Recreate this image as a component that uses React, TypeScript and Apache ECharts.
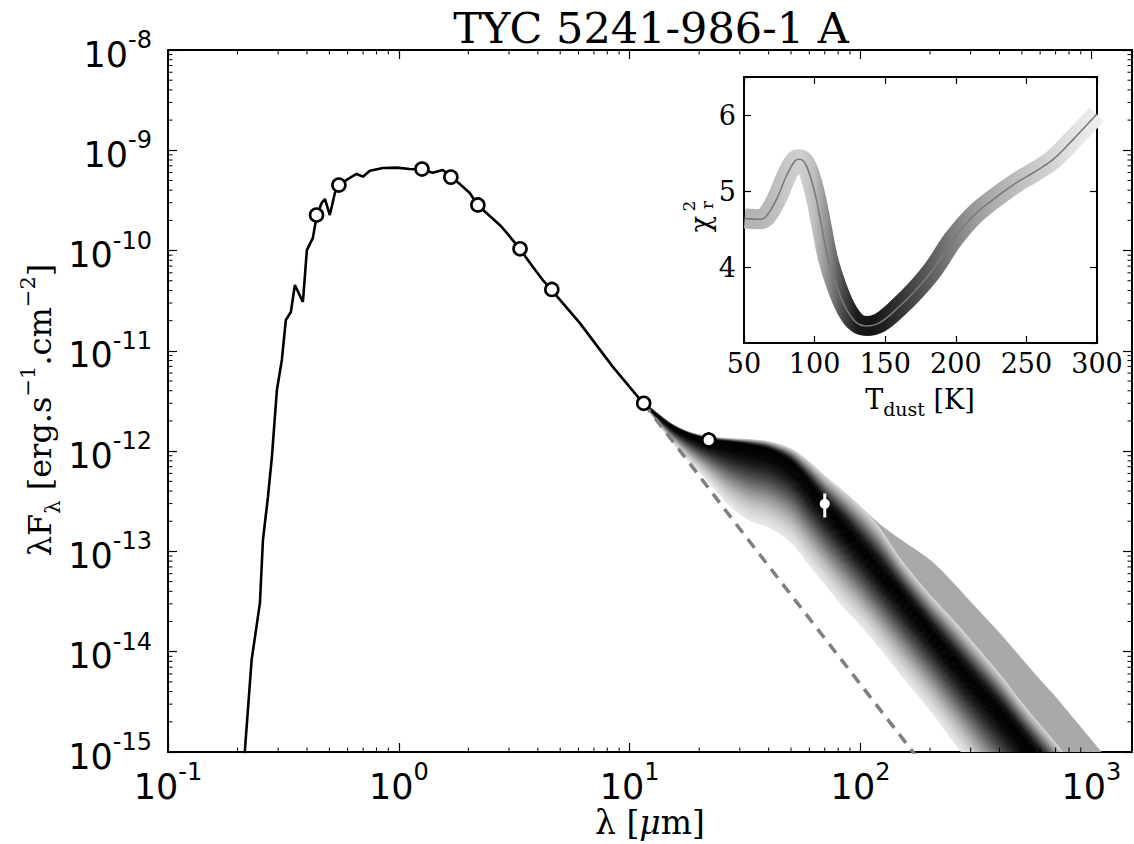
import React, { useEffect, useRef } from 'react';
import * as echarts from 'echarts';

// ---------- main SED data ----------
const photLambda = [0.213, 0.2154, 0.2303, 0.2502, 0.2578, 0.271, 0.2819, 0.2963, 0.3113, 0.324, 0.3406, 0.3545, 0.384, 0.3996, 0.4243, 0.4402, 0.4627, 0.4783, 0.5025, 0.5283, 0.5444, 0.5936, 0.656, 0.6985, 0.7491, 0.8527, 0.9772, 1.116, 1.254, 1.403, 1.55, 1.691, 1.837, 2.029, 2.198, 2.477, 2.736, 2.935, 3.341, 3.803, 4.201, 4.581, 6.074, 8.44, 11.5];
const photFlux = [6.0e-16, 1.05e-15, 8.28e-15, 3.07e-14, 1.3e-13, 3.49e-13, 8.75e-13, 4.07e-12, 8.11e-12, 2.03e-11, 2.44e-11, 4.54e-11, 3.07e-11, 1.01e-10, 1.34e-10, 2.18e-10, 2.98e-10, 3.27e-10, 2.26e-10, 3.75e-10, 4.31e-10, 5.06e-10, 5.81e-10, 5.46e-10, 6.26e-10, 6.66e-10, 6.71e-10, 6.51e-10, 6.43e-10, 5.98e-10, 6.36e-10, 5.42e-10, 4.61e-10, 3.75e-10, 2.85e-10, 2.21e-10, 1.8e-10, 1.5e-10, 1.04e-10, 6.91e-11, 5.09e-11, 4.05e-11, 1.9e-11, 6.96e-12, 2.96e-12];

const obsLambda = [0.44, 0.55, 1.26, 1.68, 2.2, 3.35, 4.6, 11.5, 22];
const obsFlux = [2.26e-10, 4.5e-10, 6.5e-10, 5.4e-10, 2.85e-10, 1.04e-10, 4.1e-11, 3.0e-12, 1.29e-12];
const obsErr = [0, 0, 0, 0, 0, 0, 0, 0, 0.25e-12];

const pacsLambda = [70];
const pacsFlux = [2.98e-13];
const pacsErr = [0.8e-13];

// photosphere alone (dashed)
const rjLambda = [11.5, 28, 166, 185];
const rjFlux = [3.0e-12, 2.06e-13, 1.05e-15, 7.6e-16];

// ---------- dust model family, read as cross-sections ----------
const bandLambda = [11.5, 15, 18, 22, 27, 33, 40, 50, 60, 70, 85, 100, 120, 150, 200, 250, 300, 400, 500, 600, 700, 800, 1000, 1200, 1500];
const bandLower = [2.96e-12, 1.29e-12, 7.98e-13, 4.93e-13, 2.9e-13, 2.05e-13, 1.75e-13, 1.24e-13, 7.33e-14, 4.74e-14, 2.73e-14, 1.85e-14, 1.12e-14, 5.87e-15, 2.62e-15, 1.32e-15, 7.43e-16, 2.96e-16, 1.49e-16, 8.39e-17, 5.06e-17, 3.35e-17, 1.68e-17, 9.48e-18, 4.76e-18];
const bandCore = [2.96e-12, 1.82e-12, 1.48e-12, 1.29e-12, 1.21e-12, 1.13e-12, 1.02e-12, 7.62e-13, 4.71e-13, 2.97e-13, 1.79e-13, 1.13e-13, 6.84e-14, 3.68e-14, 1.65e-14, 8.87e-15, 5.47e-15, 2.62e-15, 1.41e-15, 8.52e-16, 5.51e-16, 3.82e-16, 2.01e-16, 1.19e-16, 6.23e-17];
const bandUpper = [3.1e-12, 1.91e-12, 1.55e-12, 1.39e-12, 1.33e-12, 1.3e-12, 1.24e-12, 1.05e-12, 7.8e-13, 5.66e-13, 3.92e-13, 2.8e-13, 1.75e-13, 8.2e-14, 3.68e-14, 2.12e-14, 1.31e-14, 6.0e-15, 3.08e-15, 1.86e-15, 1.23e-15, 8.33e-16, 4.38e-16, 2.58e-16, 1.39e-16];
const grayStart = 11; // index in bandLambda where the cold-model strip begins
const grayOuter = [2.8e-13, 1.9e-13, 1.3e-13, 8.2e-14, 4.97e-14, 3.13e-14, 1.54e-14, 8.47e-15, 5.22e-15, 3.54e-15, 2.45e-15, 1.32e-15, 7.96e-16, 4.19e-16];

const lowerRamp = ['#e9e9e9', '#d8d8d8', '#bdbdbd', '#989898', '#6e6e6e', '#444444', '#1e1e1e', '#060606', '#000000'];
const upperRamp = ['#dadada', '#a0a0a0', '#585858', '#181818', '#000000'];
const grayStripColor = '#a9a9a9';

// ---------- inset: reduced chi2 vs dust temperature ----------
const tDust = [50.5, 61.1, 65.9, 73, 80, 86, 89.5, 94.2, 100.1, 104.9, 109.6, 115.5, 122.6, 129.7, 136.8, 146.2, 160.4, 172.2, 184, 198.1, 212.3, 226.5, 243, 254.8, 269, 283.2, 299.8];
const chi2 = [4.637, 4.628, 4.671, 4.89, 5.197, 5.395, 5.417, 5.33, 4.979, 4.54, 4.1, 3.75, 3.443, 3.268, 3.224, 3.268, 3.487, 3.707, 3.97, 4.364, 4.671, 4.891, 5.11, 5.24, 5.417, 5.68, 6.009];
// band colour every 10 K from 50 K to 300 K
const chiColors = ['#b4b4b4', '#b4b4b4', '#bcbcbc', '#c8c8c8', '#d0d0d0', '#bdbdbd', '#8a8a8a', '#4a4a4a', '#1a1a1a', '#141414', '#222222', '#333333', '#474747', '#5a5a5a', '#6e6e6e', '#828282', '#949494', '#a4a4a4', '#b0b0b0', '#bababa', '#c4c4c4', '#cdcdcd', '#d6d6d6', '#dfdfdf', '#e7e7e7', '#eeeeee'];

const xMajor = [0.1, 1, 10, 100, 1000];
const yMajor = [1e-15, 1e-14, 1e-13, 1e-12, 1e-11, 1e-10, 1e-9, 1e-8];
const minorSteps = [2, 3, 4, 5, 6, 7, 8, 9];

const SERIF = 'DejaVu Serif';
const SANS = 'DejaVu Sans';

const X_MIN = 0.1, X_MAX = 1500, Y_MIN = 1e-15, Y_MAX = 1e-8;

function expLabel(v: number) {
  const e = Math.log10(v);
  const r = Math.round(e);
  if (Math.abs(e - r) > 1e-6) return '';
  return '{b|10}{s|' + r + '}';
}

const expRich = {
  b: { fontFamily: SANS, fontSize: 35, color: '#000', lineHeight: 44, verticalAlign: 'bottom' },
  s: { fontFamily: SANS, fontSize: 24, color: '#000', lineHeight: 44, verticalAlign: 'top' },
};

function buildOption() {
  const minorX: number[] = [];
  xMajor.forEach((d) => minorSteps.forEach((m) => { const v = d * m; if (v < X_MAX) minorX.push(v); }));
  const minorY: number[] = [];
  yMajor.slice(0, -1).forEach((d) => minorSteps.forEach((m) => minorY.push(d * m)));

  const logL = bandLower.map(Math.log10);
  const logC = bandCore.map(Math.log10);
  const logU = bandUpper.map(Math.log10);
  const logG = grayOuter.map(Math.log10);

  const bandRender = (params: any, api: any) => {
    const children: any[] = [];
    const n = bandLambda.length;
    const P = (i: number, lf: number) => api.coord([bandLambda[i], Math.pow(10, lf)]);
    const gpts: number[][] = [];
    for (let i = grayStart; i < n; i++) gpts.push(P(i, logG[i - grayStart]));
    for (let i = n - 1; i >= grayStart; i--) gpts.push(P(i, logU[i]));
    children.push({ type: 'polygon', shape: { points: gpts, smooth: 0.3 }, style: { fill: grayStripColor, stroke: grayStripColor, lineWidth: 0.5 } });
    const strips = (edge: number[], ramp: string[], K: number) => {
      for (let k = 0; k < K; k++) {
        const t0 = k / K, t1 = (k + 1) / K;
        const pts: number[][] = [];
        for (let i = 0; i < n; i++) pts.push(P(i, edge[i] + t0 * (logC[i] - edge[i])));
        for (let i = n - 1; i >= 0; i--) pts.push(P(i, edge[i] + t1 * (logC[i] - edge[i])));
        const c = echarts.color.lerp((k + 0.5) / K, ramp);
        children.push({ type: 'polygon', shape: { points: pts, smooth: 0.3 }, style: { fill: c, stroke: c, lineWidth: 1 } });
      }
    };
    strips(logU, upperRamp, 24);
    strips(logL, lowerRamp, 36);
    return { type: 'group', children };
  };

  const minorRender = (params: any, api: any) => {
    const ch: any[] = [];
    const L = 4.5;
    const st = { stroke: '#000', lineWidth: 1 };
    minorX.forEach((v) => {
      const b = api.coord([v, Y_MIN]);
      const t = api.coord([v, Y_MAX]);
      ch.push({ type: 'line', shape: { x1: b[0], y1: b[1], x2: b[0], y2: b[1] - L }, style: st });
      ch.push({ type: 'line', shape: { x1: t[0], y1: t[1], x2: t[0], y2: t[1] + L }, style: st });
    });
    minorY.forEach((v) => {
      const l = api.coord([X_MIN, v]);
      const r = api.coord([X_MAX, v]);
      ch.push({ type: 'line', shape: { x1: l[0], y1: l[1], x2: l[0] + L, y2: l[1] }, style: st });
      ch.push({ type: 'line', shape: { x1: r[0], y1: r[1], x2: r[0] - L, y2: r[1] }, style: st });
    });
    return { type: 'group', children: ch };
  };

  const errRender = (color: string, width: number) => (params: any, api: any) => {
    const x = api.value(0), y = api.value(1), e = api.value(2);
    if (!e) return null;
    const a = api.coord([x, y - e]);
    const b = api.coord([x, y + e]);
    return { type: 'line', shape: { x1: a[0], y1: a[1], x2: b[0], y2: b[1] }, style: { stroke: color, lineWidth: width } };
  };

  const axisLineMain = { show: true, lineStyle: { color: '#000', width: 2 } };
  const tickMain = { show: true, inside: true, length: 9, lineStyle: { color: '#000', width: 1.2 } };
  const tickInset = { show: true, inside: true, length: 7, lineStyle: { color: '#000', width: 1.2 } };
  const insetLabel = { fontFamily: SERIF, fontSize: 27, color: '#000' };

  return {
    animation: false,
    backgroundColor: '#fff',
    grid: [
      { left: 168, top: 50, width: 964, height: 702, show: false },
      { left: 744, top: 77, width: 353, height: 266, show: true, backgroundColor: '#fff', borderWidth: 0, z: 10 },
    ],
    xAxis: [
      { type: 'log', gridIndex: 0, min: X_MIN, max: X_MAX, position: 'bottom', axisLine: axisLineMain, axisTick: tickMain, splitLine: { show: false }, minorTick: { show: false },
        axisLabel: { formatter: expLabel, rich: expRich, margin: 8, showMaxLabel: false } },
      { type: 'log', gridIndex: 0, min: X_MIN, max: X_MAX, position: 'top', axisLine: axisLineMain, axisTick: tickMain, splitLine: { show: false }, axisLabel: { show: false } },
      { type: 'value', gridIndex: 1, min: 50, max: 300, interval: 50, position: 'bottom', axisLine: axisLineMain, axisTick: tickInset, splitLine: { show: false },
        axisLabel: { ...insetLabel, margin: 7 }, z: 10 },
      { type: 'value', gridIndex: 1, min: 50, max: 300, interval: 50, position: 'top', axisLine: axisLineMain, axisTick: tickInset, splitLine: { show: false }, axisLabel: { show: false }, z: 10 },
    ],
    yAxis: [
      { type: 'log', gridIndex: 0, min: Y_MIN, max: Y_MAX, position: 'left', axisLine: axisLineMain, axisTick: tickMain, splitLine: { show: false },
        axisLabel: { formatter: expLabel, rich: expRich, margin: 16 } },
      { type: 'log', gridIndex: 0, min: Y_MIN, max: Y_MAX, position: 'right', axisLine: axisLineMain, axisTick: tickMain, splitLine: { show: false }, axisLabel: { show: false } },
      { type: 'value', gridIndex: 1, min: 3, max: 6.5, interval: 1, position: 'left', axisLine: axisLineMain, axisTick: tickInset, splitLine: { show: false },
        axisLabel: { ...insetLabel, margin: 8, showMinLabel: false, formatter: (v: number) => (v >= 4 && v <= 6 ? String(v) : '') }, z: 10 },
      { type: 'value', gridIndex: 1, min: 3, max: 6.5, interval: 1, position: 'right', axisLine: axisLineMain, axisTick: tickInset, splitLine: { show: false }, axisLabel: { show: false }, z: 10 },
    ],
    visualMap: [
      { type: 'continuous', show: false, seriesIndex: 8, dimension: 0, min: 50, max: 300, inRange: { color: chiColors } },
    ],
    series: [
      { type: 'custom', name: 'models', xAxisIndex: 0, yAxisIndex: 0, clip: true, z: 1, data: [[1, 1e-12]], renderItem: bandRender, silent: true },
      { type: 'line', name: 'photosphere', xAxisIndex: 0, yAxisIndex: 0, data: rjLambda.map((x, i) => [x, rjFlux[i]]), showSymbol: false, z: 2,
        lineStyle: { color: '#7f7f7f', width: 3.5, type: [11, 8] } },
      { type: 'line', name: 'stellar model', xAxisIndex: 0, yAxisIndex: 0, data: photLambda.map((x, i) => [x, photFlux[i]]), showSymbol: false, z: 3,
        lineStyle: { color: '#000', width: 2.6 } },
      { type: 'custom', name: 'obs err', xAxisIndex: 0, yAxisIndex: 0, z: 4, data: obsLambda.map((x, i) => [x, obsFlux[i], obsErr[i]]), renderItem: errRender('#000', 2.2) },
      { type: 'scatter', name: 'photometry', xAxisIndex: 0, yAxisIndex: 0, z: 5, data: obsLambda.map((x, i) => [x, obsFlux[i]]), symbol: 'circle', symbolSize: 13,
        itemStyle: { color: '#fff', borderColor: '#000', borderWidth: 2.6, opacity: 1 } },
      { type: 'custom', name: 'pacs err', xAxisIndex: 0, yAxisIndex: 0, z: 4, data: pacsLambda.map((x, i) => [x, pacsFlux[i], pacsErr[i]]), renderItem: errRender('#fff', 3) },
      { type: 'scatter', name: 'pacs', xAxisIndex: 0, yAxisIndex: 0, z: 5, data: pacsLambda.map((x, i) => [x, pacsFlux[i]]), symbol: 'circle', symbolSize: 10,
        itemStyle: { color: '#fff', borderWidth: 0, opacity: 1 } },
      { type: 'custom', name: 'minor ticks', xAxisIndex: 0, yAxisIndex: 0, z: 6, data: [[1, 1e-12]], renderItem: minorRender, silent: true },
      { type: 'line', name: 'chi2 band', xAxisIndex: 2, yAxisIndex: 2, data: tDust.map((x, i) => [x, chi2[i]]), showSymbol: false, smooth: 0.4, z: 11,
        lineStyle: { width: 20, cap: 'butt', join: 'round' } },
      { type: 'line', name: 'chi2', xAxisIndex: 2, yAxisIndex: 2, data: tDust.map((x, i) => [x, chi2[i]]), showSymbol: false, smooth: 0.4, z: 12,
        lineStyle: { width: 1.6, color: '#7a7a7a' }, itemStyle: { color: '#7a7a7a' } },
    ],
    graphic: [
      { type: 'text', x: 651, y: 28, style: { text: 'TYC 5241-986-1 A', fontFamily: SERIF, fontSize: 43, fill: '#000', align: 'center', verticalAlign: 'middle' } },
      { type: 'text', x: 650, y: 822, style: { text: 'λ [{i|μ}m]', fontFamily: SERIF, fontSize: 33, fill: '#000', align: 'center', verticalAlign: 'middle',
        rich: { i: { fontFamily: SERIF, fontStyle: 'italic', fontSize: 33 } } } },
      { type: 'text', x: 40, y: 410, rotation: Math.PI / 2, style: {
        text: '{n|λF}{sb|λ}{n| [erg.s}{sp|−1}{n|.cm}{sp|−2}{n|]}', align: 'center', verticalAlign: 'middle', fill: '#000',
        rich: {
          n: { fontFamily: SERIF, fontSize: 32, lineHeight: 46, verticalAlign: 'middle' },
          sb: { fontFamily: SERIF, fontSize: 21, lineHeight: 46, verticalAlign: 'bottom' },
          sp: { fontFamily: SERIF, fontSize: 21, lineHeight: 46, verticalAlign: 'top' },
        } } },
      { type: 'text', x: 920, y: 399, z: 20, style: { text: '{n|T}{sb|dust}{n| [K]}', align: 'center', verticalAlign: 'middle', fill: '#000',
        rich: {
          n: { fontFamily: SERIF, fontSize: 27, lineHeight: 38, verticalAlign: 'middle' },
          sb: { fontFamily: SERIF, fontSize: 19, lineHeight: 38, verticalAlign: 'bottom' },
        } } },
      { type: 'text', x: 700, y: 224, rotation: Math.PI / 2, z: 20, style: { text: 'χ', fontFamily: SERIF, fontSize: 27, fill: '#000', align: 'center', verticalAlign: 'middle' } },
      { type: 'text', x: 689, y: 206, rotation: Math.PI / 2, z: 20, style: { text: '2', fontFamily: SERIF, fontSize: 17, fill: '#000', align: 'center', verticalAlign: 'middle' } },
      { type: 'text', x: 707, y: 205, rotation: Math.PI / 2, z: 20, style: { text: 'r', fontFamily: SERIF, fontSize: 17, fill: '#000', align: 'center', verticalAlign: 'middle' } },
    ],
  };
}

export default function App() {
  const ref = useRef<HTMLDivElement>(null);
  useEffect(() => {
    document.body.style.margin = '0';
    if (!ref.current) return;
    const chart = echarts.init(ref.current, undefined, { renderer: 'svg' });
    chart.setOption(buildOption() as any);
    return () => chart.dispose();
  }, []);
  return <div ref={ref} style={{ width: 1134, height: 844 }} />;
}
